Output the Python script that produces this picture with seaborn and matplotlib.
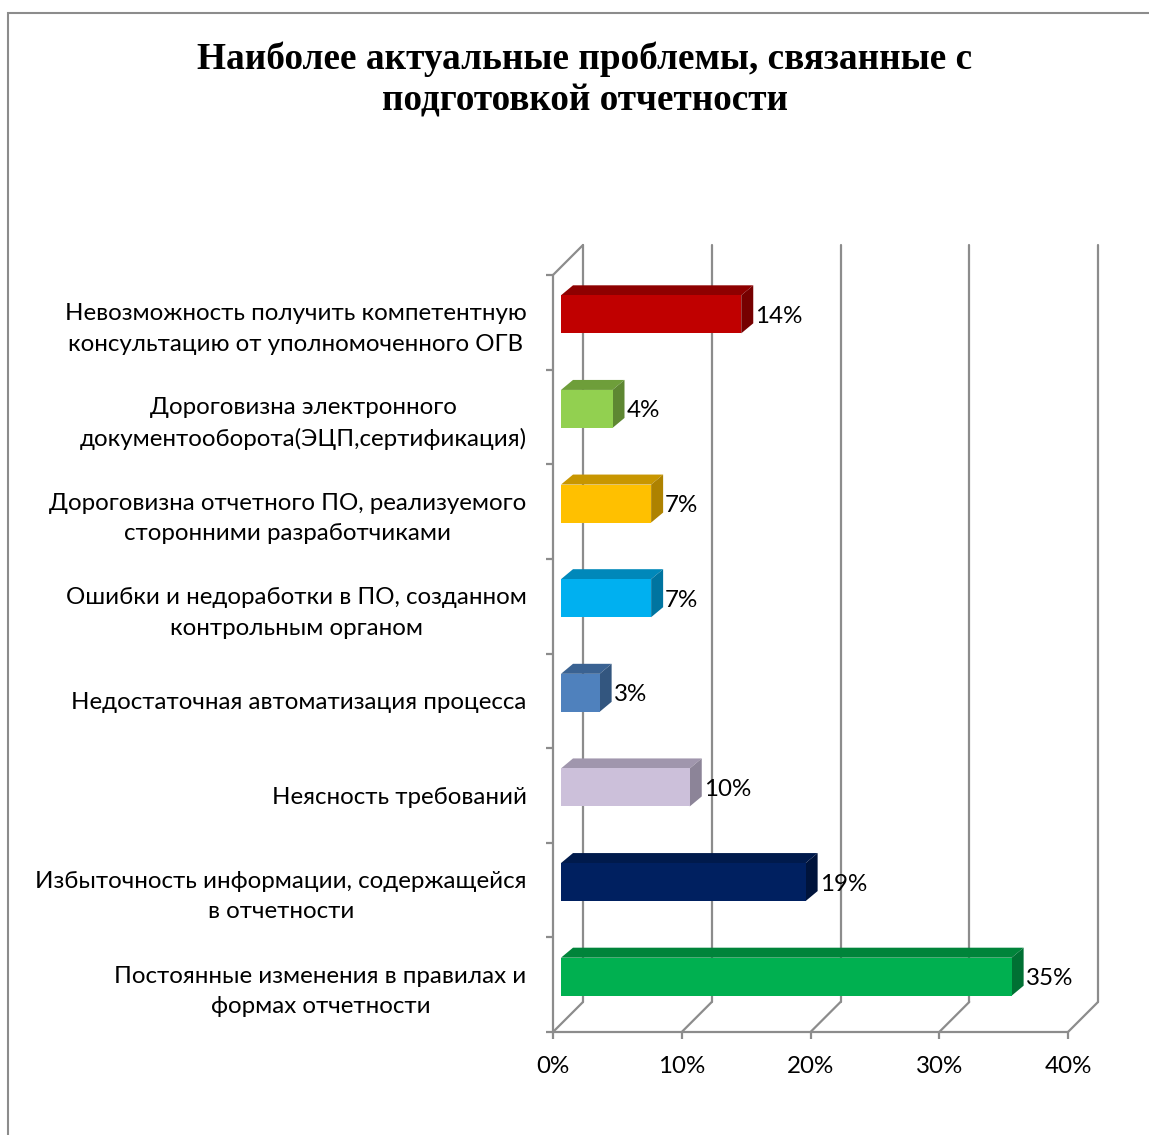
import matplotlib
matplotlib.use("Agg")
import matplotlib.pyplot as plt
import seaborn as sns
import pandas as pd
from matplotlib.patches import Polygon, Rectangle

categories = [
    "Невозможность получить компетентную\nконсультацию от уполномоченного ОГВ",
    "Дороговизна электронного\nдокументооборота(ЭЦП,сертификация)",
    "Дороговизна отчетного ПО, реализуемого\nсторонними разработчиками",
    "Ошибки и недоработки в ПО, созданном\nконтрольным органом",
    "Недостаточная автоматизация процесса",
    "Неясность требований",
    "Избыточность информации, содержащейся\nв отчетности",
    "Постоянные изменения в правилах и\nформах отчетности",
]
values = [14, 4, 7, 7, 3, 10, 19, 35]
front_colors = ["#C00000", "#92D050", "#FFC000", "#00B0F0", "#4F81BD", "#CCC0DA", "#002060", "#00B050"]
top_colors = ["#8E0000", "#6E9E3A", "#C89600", "#0088BA", "#3A6292", "#A096AD", "#001A4C", "#00843A"]
side_colors = ["#760000", "#5E8732", "#AE8200", "#0074A0", "#33567F", "#8C8498", "#00143C", "#007033"]
xticks = [0, 10, 20, 30, 40]
xticklabels = ["0%", "10%", "20%", "30%", "40%"]
title = "Наиболее актуальные проблемы, связанные с\nподготовкой отчетности"

W, H = 1149, 1135
fig = plt.figure(figsize=(W / 100, H / 100), dpi=100)
sns.set_style("white")
plt.rcParams['font.family'] = ['Lato', 'Open Sans', 'DejaVu Sans']
plt.rcParams['text.color'] = 'black'
plt.rcParams['xtick.color'] = 'black'
plt.rcParams['ytick.color'] = 'black'

px_left, px_right = 553, 1101
px_top, px_bottom = 245, 1032
ax = fig.add_axes([px_left / W, 1 - px_bottom / H, (px_right - px_left) / W, (px_bottom - px_top) / H])
xmax = 40 * (px_right - px_left) / (1068 - px_left)
sx = xmax / (px_right - px_left)
sy = 8.0 / (px_bottom - 275)
ytop = -0.5 - 30 * sy

df = pd.DataFrame({"cat": categories, "val": values})
sns.barplot(data=df, x="val", y="cat", hue="cat", palette=front_colors, legend=False,
            orient="h", width=38 * sy, ax=ax, saturation=1, edgecolor="none")
ax.set_xlim(0, xmax)
ax.set_ylim(7.5, ytop)

grid_c = "#8C8C8C"
lw = 1.6
wall = 30
for xt in xticks:
    bx = xt + wall * sx
    ax.plot([bx, bx], [7.5 - wall * sy, ytop], color=grid_c, lw=lw, clip_on=False, zorder=0)
    ax.plot([xt, bx], [7.5, 7.5 - wall * sy], color=grid_c, lw=lw, clip_on=False, zorder=0)
ax.plot([0, 0], [7.5, -0.5], color=grid_c, lw=lw, clip_on=False, zorder=0)
ax.plot([0, wall * sx], [-0.5, ytop], color=grid_c, lw=lw, clip_on=False, zorder=0)
ax.plot([0, 40], [7.5, 7.5], color=grid_c, lw=lw, clip_on=False, zorder=0)

off = 8
dxd, dyd = 12 * sx, 10 * sy
fs = 17.4
for i, p in enumerate(ax.patches):
    p.set_x(p.get_x() + off * sx)
    p.set_y(p.get_y() - off * sy)
    p.set_zorder(3)
    x0 = p.get_x(); x1 = x0 + p.get_width()
    yt = p.get_y(); yb = yt + p.get_height()
    top = Polygon([(x0, yt), (x1, yt), (x1 + dxd, yt - dyd), (x0 + dxd, yt - dyd)],
                  closed=True, facecolor=top_colors[i], edgecolor="none", zorder=2)
    side = Polygon([(x1, yt), (x1 + dxd, yt - dyd), (x1 + dxd, yb - dyd), (x1, yb)],
                   closed=True, facecolor=side_colors[i], edgecolor="none", zorder=2)
    ax.add_patch(top); ax.add_patch(side)
    ax.text(x1 + dxd + 2 * sx, (yt + yb) / 2 + 2 * sy, f"{values[i]}%", ha="left", va="center",
            fontsize=fs, color="black", zorder=4)

for s in ax.spines.values():
    s.set_visible(False)
ax.set_xlabel(""); ax.set_ylabel("")
ax.set_xticks(xticks)
ax.set_xticklabels(xticklabels, fontsize=fs)
ax.set_yticks(range(len(categories)))
ax.set_yticklabels(categories, fontsize=fs, linespacing=1.55)
for t in ax.get_yticklabels():
    t.set_multialignment("center")
ax.set_yticks([k - 0.5 for k in range(9)], minor=True)
ax.tick_params(axis="y", which="major", left=True, length=0, pad=19)
ax.tick_params(axis="y", which="minor", left=True, length=5, width=lw, color=grid_c, direction="out")
ax.tick_params(axis="x", which="major", bottom=True, length=5, width=lw, color=grid_c,
               labelcolor="black", direction="out", pad=12)
ax.patch.set_alpha(0)

fig.patches.append(Rectangle((8 / W, -0.1), 1.2, 1 - 13 / H + 0.1, transform=fig.transFigure,
                             fill=False, edgecolor="#8C8C8C", lw=1.5))
fig.text(585 / W, 1 - 80 / H, title, ha="center", va="center", fontsize=26.8, fontweight="bold",
         color="black", family=["Liberation Serif", "DejaVu Serif"], linespacing=1.25)

fig.savefig("out.png", dpi=100)
